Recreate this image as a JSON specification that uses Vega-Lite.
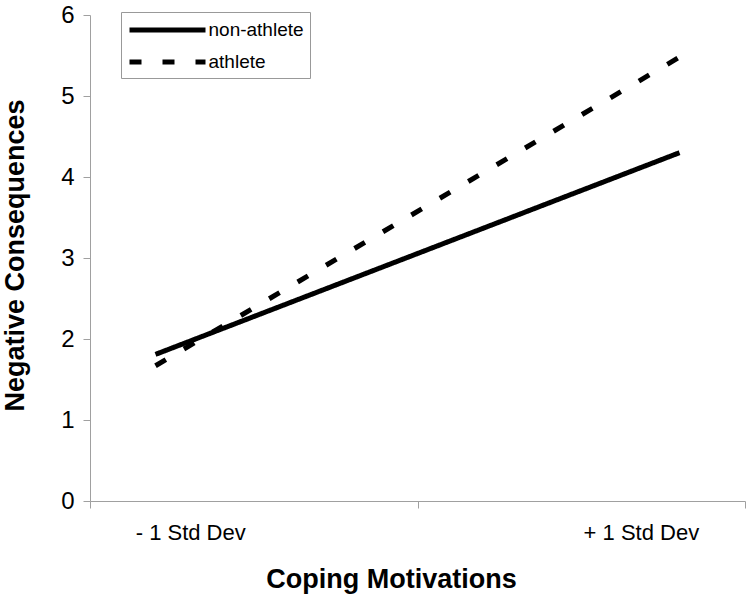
{
  "$schema": "https://vega.github.io/schema/vega-lite/v6.json",
  "width": 655,
  "height": 486,
  "autosize": "none",
  "padding": {"left": 90, "top": 15, "right": 5, "bottom": 95},
  "config": {"view": {"stroke": null}, "font": "Liberation Sans"},
  "data": {"values": [
    {"x": 0.1, "y": 1.81, "group": "non-athlete"},
    {"x": 0.9, "y": 4.3, "group": "non-athlete"},
    {"x": 0.1, "y": 1.67, "group": "athlete"},
    {"x": 0.9, "y": 5.48, "group": "athlete"}
  ]},
  "mark": {"type": "line", "strokeWidth": 5, "strokeCap": "butt", "color": "black"},
  "encoding": {
    "x": {
      "field": "x", "type": "quantitative",
      "scale": {"domain": [0, 1], "nice": false, "zero": false},
      "axis": {
        "title": "Coping Motivations",
        "values": [0, 0.153, 0.5, 0.841, 1],
        "labelExpr": "datum.value == 0.153 ? '- 1 Std Dev' : datum.value == 0.841 ? '+ 1 Std Dev' : ''",
        "tickOpacity": {"condition": {"test": "datum.value == 0 || datum.value == 0.5 || datum.value == 1", "value": 1}, "value": 0},
        "grid": false,
        "domainColor": "#a0a0a0",
        "tickColor": "#a0a0a0",
        "tickSize": 7,
        "labelFontSize": 22,
        "labelColor": "black",
        "labelPadding": 14,
        "labelBaseline": "top",
        "labelFlush": false,
        "labelOverlap": false,
        "titleFontSize": 27,
        "titleFontWeight": "bold",
        "titleColor": "black",
        "titleAlign": "center",
        "titleBaseline": "alphabetic",
        "titleX": 301,
        "titleY": 86
      }
    },
    "y": {
      "field": "y", "type": "quantitative",
      "scale": {"domain": [0, 6], "nice": false},
      "axis": {
        "title": "Negative Consequences",
        "values": [0, 1, 2, 3, 4, 5, 6],
        "grid": false,
        "domainColor": "#a0a0a0",
        "tickColor": "#a0a0a0",
        "tickSize": 7,
        "labelFontSize": 24,
        "labelColor": "black",
        "labelPadding": 9,
        "labelFlush": false,
        "titleFontSize": 27,
        "titleFontWeight": "bold",
        "titleColor": "black",
        "titleBaseline": "middle",
        "titleAlign": "center",
        "titleAngle": -90,
        "titleX": -75,
        "titleY": 240
      }
    },
    "strokeDash": {
      "field": "group", "type": "nominal",
      "scale": {"domain": ["non-athlete", "athlete"], "range": [[1, 0], [12, 21]]},
      "legend": {
        "orient": "none",
        "legendX": 31,
        "legendY": -3,
        "title": null,
        "symbolType": "M-4,0H4",
        "symbolSize": 361,
        "symbolStrokeWidth": 5,
        "symbolStrokeColor": "black",
        "symbolOffset": 28.5,
        "labelFontSize": 19,
        "labelColor": "black",
        "labelOffset": 29,
        "strokeColor": "#999",
        "padding": 6,
        "rowPadding": 10
      }
    }
  }
}
